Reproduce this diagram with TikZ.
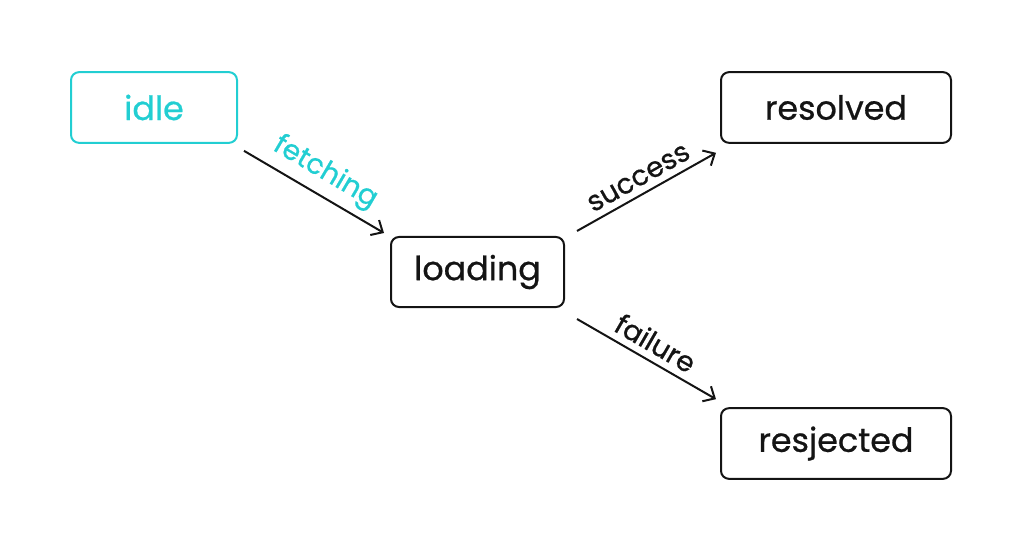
\documentclass[tikz,border=0pt]{standalone}
\usepackage{fontspec}
\setmainfont{Poppins}[FakeBold=0.7]
\usetikzlibrary{arrows.meta}
\definecolor{teal1}{RGB}{34,206,210}
\definecolor{ink}{RGB}{20,20,20}
\tikzset{
  state/.style={draw=ink, line width=1.5pt, rounded corners=6pt, text=ink,
    minimum height=53pt, font=\fontsize{25}{28}\selectfont, inner sep=0pt},
  trans/.style={draw=ink, line width=1.5pt, -{Straight Barb[length=7pt,width=13pt,line width=1.5pt]}},
  lbl/.style={sloped, above, font=\fontsize{21}{24}\selectfont, inner sep=5pt},
}
\begin{document}
\begin{tikzpicture}[x=0.75pt,y=-0.75pt]
\useasboundingbox (0,0) rectangle (1024,552);
\node[state, draw=teal1, text=teal1, minimum width=124.5pt] (idle) at (154,107.5) {idle};
\node[state, minimum width=129.75pt, minimum height=52.5pt] (loading) at (477.5,272) {loading};
\node[state, minimum width=172.5pt] (resolved) at (836,107.5) {resolved};
\node[state, minimum width=172.5pt] (rejected) at (836,443.5) {resjected};
\draw[trans] ([shift={(6,7)}]idle.south east) -- node[lbl, text=teal1, pos=0.5] (lf) {fetching} ([shift={(-6,-3)}]loading.north west);
\draw[trans] ([shift={(12,-5)}]loading.north east) -- node[lbl, text=ink, pos=0.5] (ls) {success} ([shift={(-4,9)}]resolved.south west);
\draw[trans] ([shift={(12,11)}]loading.south east) -- node[lbl, text=ink, pos=0.5] (lr) {failure} ([shift={(-4,-8)}]rejected.north west);
\end{tikzpicture}
\end{document}
